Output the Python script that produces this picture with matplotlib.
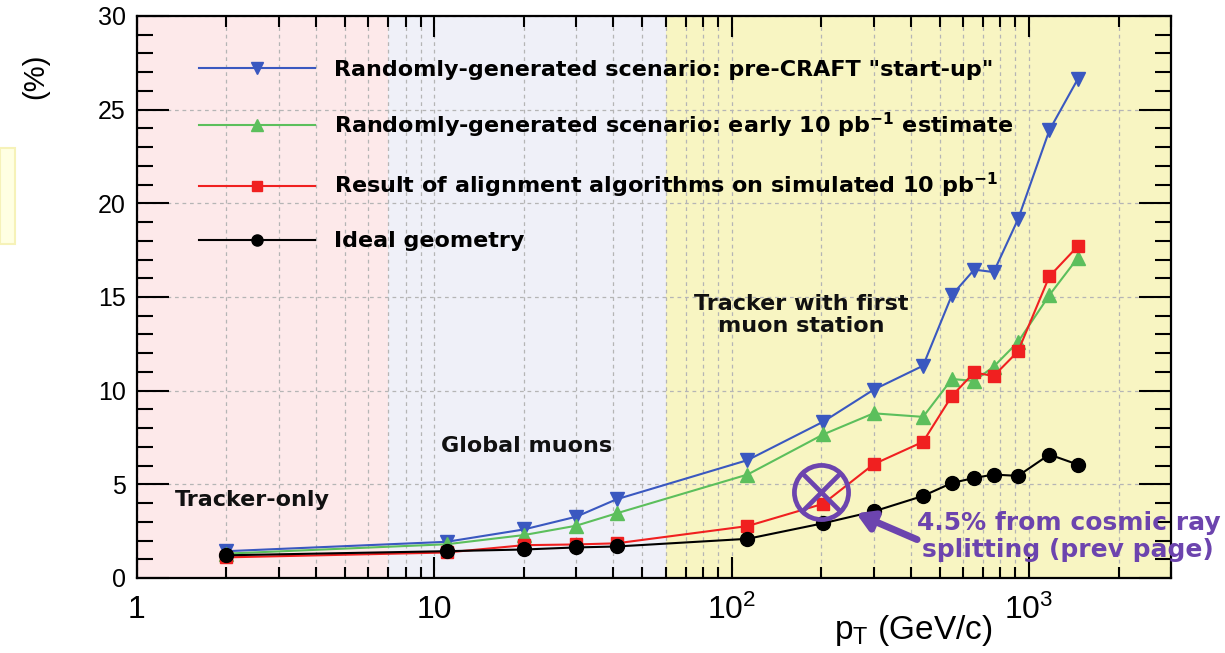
import matplotlib
matplotlib.use("Agg")
import matplotlib.pyplot as plt
from matplotlib.patches import Rectangle
from matplotlib.ticker import FixedLocator, FixedFormatter, LogLocator, NullFormatter, MultipleLocator

# p_T points (GeV/c)
pt = [2, 11, 20, 30, 41, 113, 203, 300, 440, 550, 654, 760, 918, 1170, 1460]

# fraction (%) for each scenario
startup = [1.43, 1.93, 2.59, 3.27, 4.2, 6.29, 8.34, 10.05, 11.33, 15.1, 16.46, 16.33, 19.15, 23.9, 26.65]
early10 = [1.3, 1.8, 2.29, 2.79, 3.45, 5.52, 7.66, 8.79, 8.6, 10.62, 10.52, 11.28, 12.6, 15.1, 17.1]
aligned = [1.1, 1.36, 1.75, 1.79, 1.85, 2.77, 3.96, 6.07, 7.27, 9.72, 10.97, 10.78, 12.1, 16.1, 17.72]
ideal = [1.21, 1.43, 1.52, 1.63, 1.68, 2.09, 2.92, 3.55, 4.38, 5.07, 5.34, 5.52, 5.45, 6.59, 6.05]

labels = [
    'Randomly-generated scenario: pre-CRAFT "start-up"',
    r"Randomly-generated scenario: early 10 pb$\mathregular{^{-1}}$ estimate",
    r"Result of alignment algorithms on simulated 10 pb$\mathregular{^{-1}}$",
    "Ideal geometry",
]

# momentum ranges for the shaded bands
regions = [(1, 7, "#fde9ea"), (7, 60, "#eff0f8"), (60, 3000, "#f8f5c2")]

# cosmic-ray splitting point
cosmic_pt, cosmic_val = 200, 4.6

fig = plt.figure(figsize=(12.25, 6.53), dpi=100)
ax = fig.add_axes([0.1118, 0.1149, 0.8441, 0.8606])

for lo, hi, col in regions:
    ax.axvspan(lo, hi, color=col, zorder=0, lw=0)

ax.set_xscale("log")
ax.set_xlim(1, 3000)
ax.set_ylim(0, 30)

# dashed grid at all decade sub-divisions
ax.grid(True, which="both", axis="x", color="#b5b5b5", ls=(0, (3, 3)), lw=0.9)
ax.grid(True, which="major", axis="y", color="#b5b5b5", ls=(0, (3, 3)), lw=0.9)
ax.set_axisbelow(True)

styles = [
    (startup, "#3a58c0", "v"),
    (early10, "#5cbf5c", "^"),
    (aligned, "#f02020", "s"),
    (ideal, "black", "o"),
]
for (vals, col, mk), lab in zip(styles, labels):
    ax.plot(pt, vals, color=col, marker=mk, ms=10 if mk != "s" else 9,
            lw=1.5, label=lab, zorder=3)

leg = ax.legend(loc="upper left", bbox_to_anchor=(0.041, 0.958), frameon=False,
                handlelength=5.2, handletextpad=0.85, labelspacing=1.4,
                markerscale=0.8, prop={"family": "DejaVu Sans", "weight": "bold", "size": 16})

# band labels
txt = dict(family="DejaVu Sans", weight="bold", fontsize=16, color="#111111")
ax.text(1.34, 4.16, "Tracker-only", ha="left", va="center", **txt)
ax.text(10.5, 7.05, "Global muons", ha="left", va="center", **txt)
ax.text(171, 14.04, "Tracker with first\nmuon station", ha="center", va="center",
        linespacing=1.15, **txt)

# circled cross marking the split-track point
purple = "#6c44ae"
ax.plot([cosmic_pt], [cosmic_val], marker="o", ms=39, mfc="none", mec=purple, mew=3.4, zorder=5)
ax.plot([cosmic_pt], [cosmic_val], marker="x", ms=27, mec=purple, mew=3.4, zorder=5)
ax.annotate("", xy=(262, 3.45), xytext=(420, 2.05),
            arrowprops=dict(arrowstyle="-|>,head_length=1.0,head_width=0.6",
                            color=purple, lw=5, shrinkA=0, shrinkB=0), zorder=5)
ax.text(1355, 2.2, "4.5% from cosmic ray\nsplitting (prev page)", ha="center", va="center",
        family="DejaVu Sans", weight="bold", fontsize=18, color=purple, linespacing=1.15, zorder=6)

# ROOT-like inward ticks on all sides
ax.tick_params(which="both", direction="in", top=True, right=True, width=1.5, color="black")
ax.tick_params(axis="y", which="major", length=23, labelsize=18, pad=8)
ax.tick_params(axis="y", which="minor", length=11.5)
ax.tick_params(axis="x", which="major", length=15, labelsize=23, pad=12)
ax.tick_params(axis="x", which="minor", length=8)
ax.yaxis.set_major_locator(MultipleLocator(5))
ax.yaxis.set_minor_locator(MultipleLocator(1))
ax.xaxis.set_major_locator(FixedLocator([1, 10, 100, 1000]))
ax.xaxis.set_major_formatter(FixedFormatter(["1", "10", r"$\mathregular{10^{2}}$", r"$\mathregular{10^{3}}$"]))
ax.xaxis.set_minor_locator(LogLocator(base=10, subs=range(2, 10), numticks=20))
ax.xaxis.set_minor_formatter(NullFormatter())
for lab in ax.get_xticklabels() + ax.get_yticklabels():
    lab.set_family("Liberation Sans")
for sp in ax.spines.values():
    sp.set_linewidth(1.6)

fig.text(913 / 1225, 1 - 630 / 653, r"p$_{\mathregular{T}}$ (GeV/c)", ha="center", va="center",
         family="Liberation Sans", fontsize=24)
fig.text(35 / 1225, 1 - 76 / 653, "(%)", ha="center", va="center", rotation=90,
         family="Liberation Sans", fontsize=21)

# small pale box at the left edge
fig.patches.append(Rectangle((0, 1 - 244 / 653), 15 / 1225, 96 / 653, transform=fig.transFigure,
                             facecolor="#ffffe2", edgecolor="#f6f2b8", lw=1.5))

fig.savefig("out.png", dpi=100)
